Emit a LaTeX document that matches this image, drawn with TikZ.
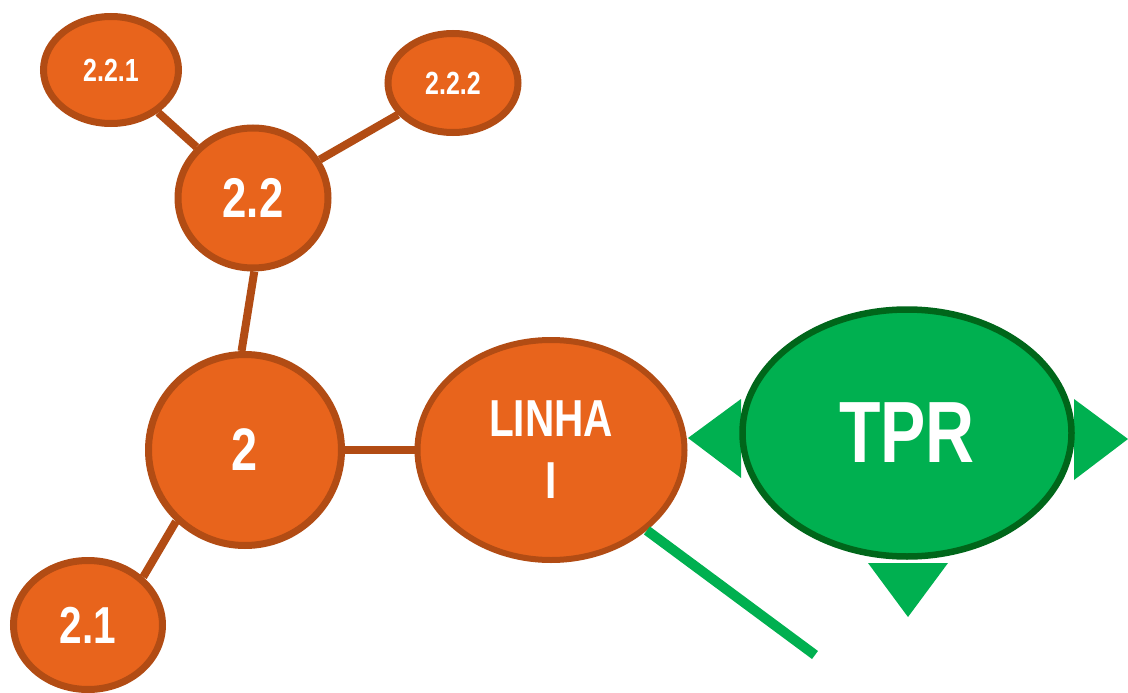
\documentclass[tikz,border=0pt]{standalone}
\usepackage{fontspec}
\setmainfont{Liberation Sans}
\newfontfamily\labelfont[FakeStretch=0.78]{Liberation Sans}
\usetikzlibrary{shapes.geometric}
\definecolor{nodeorange}{HTML}{E8641C}
\definecolor{orangeedge}{HTML}{B24C14}
\definecolor{tprgreen}{HTML}{00B050}
\definecolor{tpredge}{HTML}{00661A}
\begin{document}
\begin{tikzpicture}[x=1pt,y=-1pt,
  topic/.style={ellipse, draw=orangeedge, fill=nodeorange, line width=7pt,
    inner sep=0pt, text=white, align=center},
  hub/.style={ellipse, draw=tpredge, fill=tprgreen, line width=6.5pt,
    inner sep=0pt, text=white, align=center},
  link/.style={draw=orangeedge, line width=8pt},
  pointer/.style={fill=tprgreen},
  greenlink/.style={draw=tprgreen, line width=10pt}]
\useasboundingbox (0,0) rectangle (1128,693);

% arrow heads around the TPR hub
\fill[pointer] (688,438) -- (741,399) -- (741,478) -- cycle;
\fill[pointer] (1128,439) -- (1074,399) -- (1074,480) -- cycle;
\fill[pointer] (868,563) -- (948,563) -- (908,617) -- cycle;

% topic ellipses
\node[topic, minimum width=135pt, minimum height=107pt,
  font=\labelfont\bfseries\fontsize{32}{36}\selectfont] (n221) at (111,70) {2.2.1};
\node[topic, minimum width=130pt, minimum height=99pt,
  font=\labelfont\bfseries\fontsize{32}{36}\selectfont] (n222) at (453,83) {2.2.2};
\node[topic, minimum width=150pt, minimum height=140pt,
  font=\labelfont\bfseries\fontsize{56}{60}\selectfont] (n22) at (253,198) {2.2};
\node[topic, minimum width=193pt, minimum height=191pt,
  font=\labelfont\bfseries\fontsize{60}{64}\selectfont] (n2) at (245,450) {2};
\node[topic, minimum width=149pt, minimum height=129pt,
  font=\labelfont\bfseries\fontsize{52}{56}\selectfont] (n21) at (88,625) {2.1};
\node[topic, minimum width=267pt, minimum height=220pt, line width=6pt,
  font=\labelfont\bfseries\fontsize{52}{62}\selectfont] (linha) at (551,450) {LINHA\\I};
\node[hub, minimum width=329pt, minimum height=247pt,
  font=\labelfont\bfseries\fontsize{87}{90}\selectfont] (tpr) at (907,433) {TPR};

% connectors
\draw[link] (n221) -- (n22);
\draw[link] (n222) -- (n22);
\draw[link] (n22.271) -- (n2.92);
\draw[link] (n2) -- (linha);
\draw[link] (n2.226) -- (n21.41);

\coordinate (tail) at (815,655);
\draw[greenlink] (linha.320) -- (tail);
\end{tikzpicture}
\end{document}
